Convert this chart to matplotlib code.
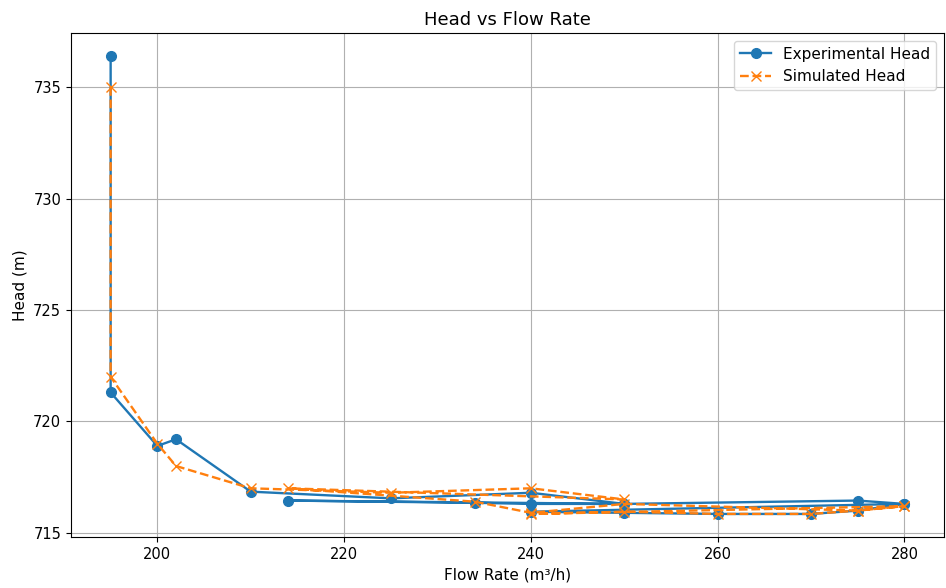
import matplotlib
matplotlib.use('Agg')
import matplotlib.pyplot as plt

# flow rate (m3/h) in recorded order
flow = [195, 195, 200, 202, 210, 225, 240, 250, 214, 234,
        240, 250, 275, 280, 240, 250, 260, 270, 275, 280]
exp_head = [736.4, 721.3, 718.9, 719.2, 716.85, 716.55, 716.8, 716.3, 716.45, 716.35,
            716.3, 716.3, 716.45, 716.3, 715.95, 715.9, 715.85, 715.85, 716.0, 716.3]
sim_head = [735.0, 722.0, 719.0, 718.0, 717.0, 716.8, 717.0, 716.5, 717.0, 716.4,
            715.9, 716.3, 716.0, 716.2, 715.85, 715.95, 715.85, 715.85, 716.0, 716.2]

plt.rcParams['font.size'] = 11

fig = plt.figure(figsize=(9.46, 5.88), dpi=100)
ax = fig.add_subplot(111)
fig.subplots_adjust(left=0.075, right=0.998, bottom=0.087, top=0.944)

ax.plot(flow, exp_head, marker='o', linestyle='-', lw=1.7, ms=7, label='Experimental Head')
ax.plot(flow, sim_head, marker='x', linestyle='--', lw=1.7, ms=7, label='Simulated Head')

ax.set_title('Head vs Flow Rate', fontsize=13)
ax.set_xlabel('Flow Rate (m³/h)')
ax.set_ylabel('Head (m)')
ax.tick_params(labelsize=10.5)
ax.legend(fontsize=11)
ax.grid(True)

fig.savefig('out.png', dpi=100)
